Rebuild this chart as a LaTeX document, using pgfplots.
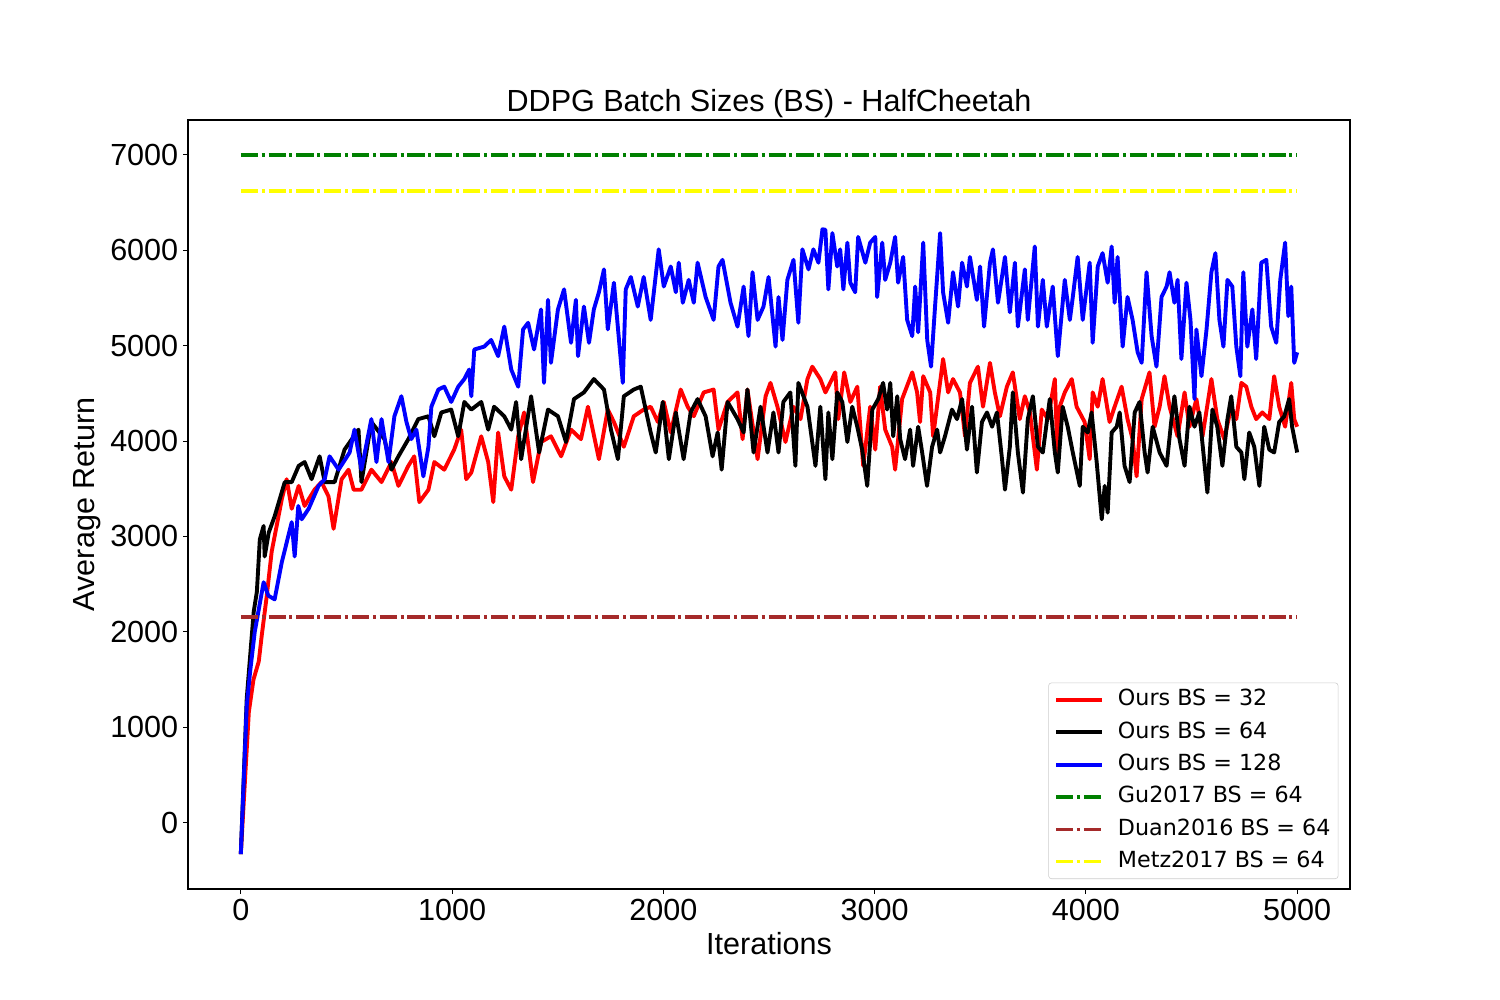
\documentclass[border=0pt]{standalone}
\usepackage{fontspec}
\setmainfont{Liberation Sans}
\newfontfamily\dejavu{DejaVu Sans}
\usepackage{pgfplots}
\pgfplotsset{compat=1.18}
\definecolor{mplgreen}{HTML}{008000}
\definecolor{mplbrown}{HTML}{A52A2A}
\definecolor{mplyellow}{HTML}{FFFF00}
\tikzset{dd/.style={line width=2.4pt, dash pattern=on 12.4pt off 2.6pt on 2.2pt off 2.8pt}}
\begin{document}
\begin{tikzpicture}
\path[use as bounding box] (-135.36pt,-79.92pt) rectangle (944.64pt,640.08pt);
\begin{axis}[
  at={(0,0)}, anchor=south west,
  scale only axis, width=836.64pt, height=553.68pt,
  xmin=-250, xmax=5250, ymin=-696, ymax=7366,
  xtick={0,1000,2000,3000,4000,5000},
  ytick={0,1000,2000,3000,4000,5000,6000,7000},
  scaled ticks=false,
  /pgf/number format/assume math mode=true,
  /pgf/number format/1000 sep={},
  tick label style={font=\fontsize{22}{26}\selectfont},
  tick align=outside, xtick pos=left, ytick pos=left,
  major tick length=3.5pt,
  every tick/.style={black, line width=0.8pt},
  axis line style={line width=0.8pt},
  title={DDPG Batch Sizes (BS) - HalfCheetah},
  title style={font=\fontsize{22}{26}\selectfont, yshift=-8pt},
  xlabel={Iterations}, ylabel={Average Return},
  label style={font=\fontsize{22}{26}\selectfont},
  xlabel style={yshift=-2pt},
  legend cell align=left,
  legend style={at={(0.99,0.013)}, anchor=south east, draw=black!20, rounded corners=2pt,
    font=\dejavu\fontsize{16}{19}\selectfont,
    nodes={text height=12pt, text depth=3.5pt, inner sep=1.5pt},
    row sep=4.8pt, inner xsep=4pt, inner ysep=3pt},
  legend image code/.code={\draw[#1] (0pt,0pt) -- (33pt,0pt); \path (41.6pt,0pt);},
  every axis plot/.append style={line join=round},
]
\addplot[red, line width=2.8pt] coordinates {
(0,-330) (38,1160) (60,1500) (85,1690) (99,1960) (123,2380) (146,2840) (194,3390) (217,3600) (241,3290) (274,3530) (302,3320) (349,3490) (382,3570) (415,3420) (439,3080) (477,3600) (510,3700) (534,3490) (571,3490) (618,3700) (666,3570) (713,3780) (746,3530) (793,3740) (821,3840) (845,3360) (888,3490) (916,3780) (963,3700) (1010,3910) (1043,4120) (1067,3600) (1091,3670) (1138,4050) (1171,3780) (1195,3360) (1218,4090) (1247,3630) (1280,3490) (1313,4050) (1341,4300) (1383,3570) (1421,3990) (1468,4050) (1516,3840) (1563,4120) (1610,4020) (1643,4360) (1695,3810) (1737,4330) (1766,4200) (1813,3940) (1860,4260) (1907,4330) (1940,4360) (1974,4200) (2002,4410) (2035,4090) (2082,4540) (2115,4360) (2144,4260) (2191,4510) (2238,4540) (2261,4120) (2304,4410) (2351,4510) (2375,4020) (2398,4540) (2446,3810) (2484,4470) (2507,4610) (2540,4360) (2578,3990) (2616,4360) (2649,4230) (2682,4650) (2705,4780) (2743,4650) (2767,4510) (2814,4720) (2828,4230) (2856,4720) (2885,4410) (2918,4570) (2946,3740) (2979,4360) (3003,3910) (3026,4570) (3050,4120) (3083,3940) (3097,3700) (3130,4440) (3178,4720) (3201,4510) (3215,4200) (3230,4680) (3263,4510) (3277,4050) (3324,4860) (3348,4510) (3371,4650) (3404,4510) (3428,4050) (3451,4610) (3489,4780) (3513,4360) (3546,4820) (3569,4510) (3593,4260) (3626,4570) (3654,4720) (3687,4230) (3711,4470) (3735,4300) (3768,3700) (3791,4330) (3820,4230) (3853,4650) (3867,3740) (3876,4360) (3900,4510) (3933,4650) (3956,4360) (3994,4200) (4018,3810) (4032,4510) (4056,4360) (4079,4650) (4112,4200) (4136,4360) (4169,4570) (4197,4230) (4221,4020) (4240,3630) (4264,4440) (4301,4720) (4325,4150) (4349,4360) (4372,4680) (4396,4360) (4434,4050) (4467,4510) (4490,4150) (4523,4440) (4552,4050) (4594,4650) (4622,4230) (4655,4020) (4688,4360) (4712,4230) (4736,4610) (4759,4570) (4783,4360) (4806,4230) (4835,4300) (4868,4230) (4891,4680) (4915,4360) (4943,4150) (4972,4610) (4986,4230) (5000,4150)
};
\addlegendentry{Ours BS = 32}
\addplot[black, line width=2.8pt] coordinates {
(0,-330) (28,1300) (61,2210) (76,2420) (90,2970) (108,3110) (113,2790) (132,3040) (160,3210) (208,3570) (241,3570) (274,3740) (302,3780) (335,3600) (373,3840) (397,3570) (444,3570) (491,3910) (557,4120) (571,3570) (618,4200) (680,4020) (713,3700) (746,3840) (793,4020) (840,4230) (888,4260) (916,4050) (949,4300) (996,4330) (1029,4050) (1058,4410) (1091,4330) (1138,4410) (1171,4120) (1199,4360) (1247,4260) (1280,4120) (1303,4410) (1327,3810) (1374,4470) (1412,3880) (1454,4330) (1501,4260) (1539,3990) (1577,4440) (1624,4510) (1671,4650) (1719,4540) (1752,4120) (1785,3810) (1813,4470) (1860,4540) (1893,4570) (1940,4090) (1964,3880) (1997,4410) (2026,3810) (2059,4300) (2096,3810) (2129,4300) (2162,4440) (2200,4260) (2233,3840) (2257,4090) (2276,3700) (2304,4410) (2351,4230) (2380,4090) (2398,4540) (2427,3880) (2460,4360) (2493,3880) (2521,4300) (2545,3880) (2568,4410) (2601,4510) (2625,3740) (2639,4610) (2682,4360) (2720,3740) (2743,4360) (2767,3600) (2781,4300) (2800,3810) (2823,4510) (2847,4410) (2871,3990) (2894,4360) (2918,4150) (2941,3910) (2965,3530) (2989,4330) (3017,4440) (3040,4610) (3059,4330) (3074,4610) (3088,4050) (3107,4470) (3121,4020) (3144,3810) (3168,4120) (3182,3740) (3206,4150) (3225,3880) (3248,3530) (3272,3940) (3296,4120) (3310,3880) (3333,4050) (3366,4330) (3390,4230) (3414,4440) (3437,3910) (3461,4360) (3484,3670) (3508,4200) (3532,4300) (3556,4150) (3579,4300) (3603,3810) (3617,3490) (3640,3940) (3654,4510) (3678,3880) (3702,3460) (3725,4230) (3749,4470) (3773,3940) (3796,3880) (3829,4440) (3853,3880) (3867,3670) (3890,4360) (3914,4150) (3938,3880) (3971,3530) (3985,4150) (4009,4090) (4027,4300) (4051,3780) (4075,3180) (4089,3530) (4103,3250) (4122,4090) (4146,4150) (4160,4300) (4183,3740) (4207,3570) (4231,4300) (4254,4410) (4278,3880) (4292,3670) (4316,4150) (4349,3880) (4382,3740) (4405,4230) (4419,4470) (4443,4020) (4467,3740) (4490,4360) (4514,4150) (4537,4300) (4575,3460) (4599,4330) (4622,4150) (4646,3740) (4670,4230) (4688,4470) (4712,3940) (4736,3880) (4750,3600) (4773,4090) (4797,3940) (4821,3530) (4844,4150) (4868,3910) (4891,3880) (4915,4200) (4939,4260) (4962,4440) (4976,4150) (5000,3880)
};
\addlegendentry{Ours BS = 64}
\addplot[blue, line width=2.8pt] coordinates {
(0,-330) (28,1224) (45,1600) (66,2000) (108,2520) (130,2380) (160,2340) (194,2730) (241,3150) (255,2790) (272,3320) (288,3180) (321,3290) (368,3530) (397,3600) (420,3840) (463,3700) (515,3880) (538,4120) (571,3700) (618,4230) (642,3780) (666,4230) (699,3780) (727,4260) (760,4470) (784,4200) (807,4020) (831,4120) (864,3630) (888,3940) (902,4360) (935,4540) (963,4570) (996,4410) (1029,4570) (1058,4650) (1081,4750) (1091,4470) (1105,4960) (1152,4990) (1185,5060) (1218,4890) (1247,5200) (1280,4750) (1313,4570) (1336,5170) (1360,5240) (1388,4960) (1421,5380) (1435,4610) (1454,5480) (1468,4820) (1501,5380) (1530,5590) (1563,5030) (1586,5480) (1596,4890) (1624,5410) (1648,5030) (1671,5380) (1695,5560) (1719,5800) (1737,5170) (1766,5660) (1808,4610) (1822,5590) (1846,5720) (1879,5410) (1907,5720) (1940,5270) (1978,6010) (2002,5620) (2035,5830) (2059,5560) (2073,5870) (2092,5450) (2120,5690) (2144,5450) (2162,5870) (2200,5510) (2238,5270) (2261,5830) (2280,5900) (2318,5450) (2351,5200) (2380,5620) (2403,5100) (2422,5770) (2446,5270) (2474,5410) (2498,5720) (2531,4990) (2545,5510) (2564,5060) (2587,5690) (2616,5900) (2639,5240) (2658,6010) (2687,5800) (2710,6010) (2734,5870) (2753,6220) (2767,6215) (2781,5590) (2800,6180) (2823,5830) (2837,6010) (2852,5590) (2871,6080) (2885,5660) (2908,5560) (2922,6140) (2956,5870) (2979,6080) (3003,6140) (3012,5510) (3036,6080) (3050,5690) (3074,5870) (3097,6140) (3111,5660) (3135,5930) (3154,5270) (3178,5100) (3192,5620) (3206,5140) (3230,6080) (3249,5060) (3267,4780) (3286,5410) (3310,6180) (3324,5560) (3348,5240) (3371,5770) (3395,5410) (3414,5870) (3437,5620) (3451,5930) (3484,5480) (3499,5830) (3518,5200) (3546,5870) (3560,6010) (3584,5450) (3617,5930) (3640,5350) (3664,5870) (3678,5200) (3711,5800) (3725,5270) (3758,6040) (3773,5200) (3796,5690) (3815,5200) (3843,5620) (3867,4890) (3900,5690) (3924,5270) (3938,5510) (3961,5930) (3985,5270) (4004,5620) (4018,5870) (4032,5030) (4056,5830) (4079,5970) (4103,5660) (4122,6040) (4136,5450) (4150,5930) (4174,4990) (4197,5510) (4221,5270) (4245,4930) (4264,4820) (4287,5770) (4311,5100) (4334,4780) (4358,5510) (4382,5620) (4396,5770) (4419,5450) (4434,5690) (4452,4860) (4476,5660) (4495,5270) (4514,4440) (4523,5170) (4547,4680) (4571,5170) (4594,5770) (4613,5970) (4632,5270) (4651,4990) (4670,5690) (4693,5620) (4712,4990) (4731,4680) (4745,5770) (4764,4990) (4788,5380) (4806,4860) (4830,5870) (4854,5900) (4877,5200) (4901,5030) (4920,5690) (4943,6080) (4958,5310) (4972,5620) (4986,4820) (5000,4930)
};
\addlegendentry{Ours BS = 128}
\addplot[mplgreen, dd] coordinates {(0,7000) (5000,7000)};
\addlegendentry{Gu2017 BS = 64}
\addplot[mplbrown, dd] coordinates {(0,2155) (5000,2155)};
\addlegendentry{Duan2016 BS = 64}
\addplot[mplyellow, dd] coordinates {(0,6623) (5000,6623)};
\addlegendentry{Metz2017 BS = 64}
\end{axis}
\end{tikzpicture}
\end{document}
